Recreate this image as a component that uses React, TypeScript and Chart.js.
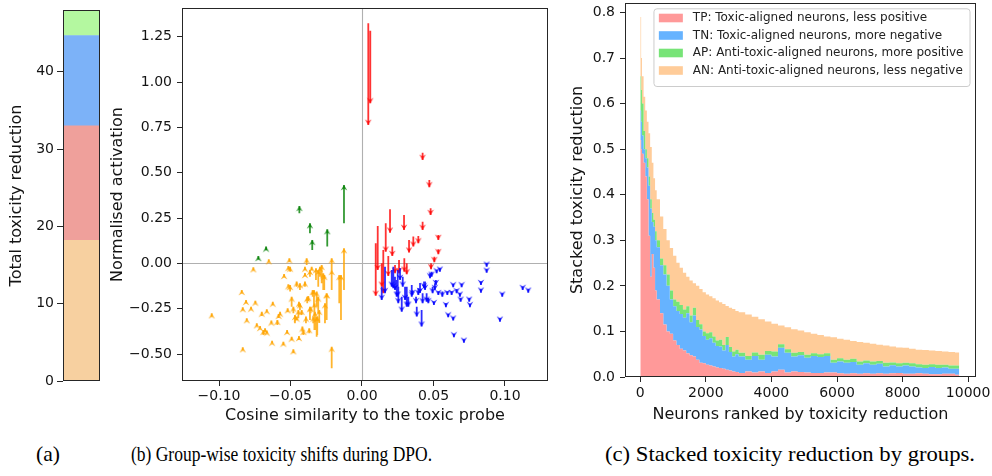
import React, { useEffect, useRef } from "react";
import { Chart, registerables } from "chart.js";

Chart.register(...registerables);

const SANS = "'DejaVu Sans', 'Liberation Sans', sans-serif";
const SERIF = "'Liberation Serif', 'Times New Roman', serif";
const INK = "#141414";
const SPINE = "#262626";

/* ---------- (a) total toxicity reduction by group ---------- */
const A_GROUPS = ["AN", "TP", "TN", "AP"];
const A_VALUES = [18.2, 14.8, 11.7, 3.3];
const A_COLORS = ["#f7d0a0", "#efa09b", "#7cb2f8", "#b4f8a0"];
const A_TICKS = [0, 10, 20, 30, 40];

/* ---------- (b) group-wise shifts: arrow x, start activation, end activation ---------- */
const TP_X = [0.0044, 0.0058, 0.0424, 0.0471, 0.048, 0.0424, 0.0534, 0.0534, 0.0506, 0.0483, 0.0294, 0.0196, 0.0166, 0.011, 0.0096, 0.0149, 0.0212, 0.0359, 0.0394, 0.0329, 0.0259, 0.0296, 0.0313, 0.0184, 0.0138, 0.0231];
const TP_FROM = [1.324, 1.283, 0.611, 0.46, 0.304, 0.23, 0.157, 0.078, 0.037, 0.001, 0.267, 0.299, 0.222, 0.207, 0.111, 0.074, 0.093, 0.148, 0.152, 0.13, 0.019, 0.029, 0.001, 0.041, 0.001, -0.008];
const TP_TO = [0.764, 0.883, 0.571, 0.42, 0.267, 0.185, 0.13, 0.051, 0.007, -0.032, 0.185, 0.17, 0.065, -0.036, -0.178, -0.164, 0.041, 0.093, 0.111, 0.06, -0.054, -0.045, -0.06, -0.069, -0.128, -0.054];

const TN_X = [0.0138, 0.0161, 0.0208, 0.0219, 0.0231, 0.0243, 0.025, 0.0254, 0.0266, 0.0278, 0.0285, 0.0301, 0.0313, 0.0324, 0.0348, 0.0352, 0.0378, 0.0383, 0.0394, 0.0406, 0.0417, 0.0424, 0.0434, 0.0441, 0.0452, 0.0464, 0.0476, 0.0487, 0.0494, 0.0503, 0.051, 0.0517, 0.0522, 0.0534, 0.0545, 0.0562, 0.0587, 0.0597, 0.0603, 0.0627, 0.0638, 0.0638, 0.0643, 0.0662, 0.0685, 0.069, 0.0697, 0.0713, 0.075, 0.0755, 0.0832, 0.0832, 0.0872, 0.0872, 0.0965, 0.0981, 0.1124, 0.1163];
const TN_FROM = [-0.128, -0.018, -0.036, -0.018, -0.073, -0.091, -0.036, -0.128, -0.025, -0.183, -0.073, -0.128, -0.128, -0.183, -0.119, -0.146, -0.183, -0.238, -0.137, -0.107, -0.256, -0.164, -0.1, -0.1, -0.164, -0.19, -0.054, -0.045, -0.128, -0.211, -0.109, -0.091, -0.036, -0.155, -0.026, -0.155, -0.219, -0.155, -0.278, -0.155, -0.113, -0.297, -0.389, -0.142, -0.164, -0.192, -0.113, -0.418, -0.192, -0.223, -0.1, -0.142, 0.001, -0.032, -0.302, -0.164, -0.128, -0.142];
const TN_TO = [-0.201, -0.164, -0.128, -0.137, -0.146, -0.183, -0.183, -0.219, -0.091, -0.266, -0.128, -0.201, -0.238, -0.238, -0.183, -0.174, -0.219, -0.293, -0.174, -0.163, -0.348, -0.219, -0.137, -0.146, -0.211, -0.219, -0.082, -0.073, -0.164, -0.229, -0.146, -0.119, -0.054, -0.174, -0.045, -0.183, -0.241, -0.174, -0.297, -0.174, -0.131, -0.315, -0.407, -0.164, -0.183, -0.211, -0.131, -0.437, -0.211, -0.241, -0.119, -0.161, -0.018, -0.051, -0.321, -0.183, -0.146, -0.161];

const AP_X = [-0.0725, -0.0671, -0.0438, -0.0364, -0.0348, -0.0243, -0.0126];
const AP_FROM = [0.023, 0.074, 0.277, 0.166, 0.074, 0.093, 0.222];
const AP_TO = [0.041, 0.093, 0.317, 0.222, 0.13, 0.189, 0.433];

const AN_X = [-0.1051, -0.0841, -0.0834, -0.0834, -0.0811, -0.0806, -0.0776, -0.076, -0.0746, -0.0736, -0.0652, -0.0713, -0.0701, -0.069, -0.0678, -0.0666, -0.0634, -0.0629, -0.0624, -0.0592, -0.0583, -0.0573, -0.055, -0.0545, -0.0524, -0.052, -0.0515, -0.0503, -0.0508, -0.0503, -0.0492, -0.0492, -0.048, -0.048, -0.0469, -0.0457, -0.0445, -0.0441, -0.0441, -0.0434, -0.0422, -0.0417, -0.041, -0.0399, -0.0399, -0.0392, -0.0387, -0.0383, -0.0376, -0.0369, -0.0364, -0.0359, -0.0352, -0.0345, -0.0341, -0.0336, -0.0329, -0.0322, -0.0317, -0.0313, -0.0306, -0.0299, -0.0294, -0.0282, -0.0271, -0.0259, -0.0247, -0.0212, -0.0212, -0.0212, -0.0159, -0.0147, -0.0126, -0.0666, -0.0399, -0.0306, -0.0264, -0.0247, -0.0317, -0.0333, -0.0364, -0.0434, -0.0457, -0.0515];
const AN_FROM = [-0.293, -0.161, -0.477, -0.256, -0.216, -0.315, -0.252, -0.036, -0.219, -0.345, 0.01, -0.357, -0.289, -0.394, -0.376, -0.266, -0.33, -0.44, -0.229, -0.339, -0.3, -0.284, -0.45, -0.073, -0.385, -0.266, -0.03, -0.045, 0.01, -0.155, -0.422, -0.238, -0.492, -0.275, -0.33, -0.128, -0.302, -0.422, -0.238, -0.146, -0.284, -0.376, -0.394, -0.128, -0.036, -0.33, -0.008, -0.219, -0.207, -0.385, -0.073, -0.275, -0.036, -0.183, -0.33, -0.238, -0.367, -0.091, -0.238, -0.394, -0.275, -0.328, -0.073, -0.109, -0.146, -0.33, -0.219, -0.146, -0.054, -0.578, -0.219, -0.311, -0.146, -0.385, -0.069, -0.128, -0.146, -0.311, -0.404, -0.367, -0.311, -0.256, -0.311, -0.128];
const AN_TO = [-0.275, -0.146, -0.462, -0.241, -0.201, -0.302, -0.238, -0.021, -0.205, -0.33, 0.023, -0.345, -0.266, -0.367, -0.357, -0.252, -0.315, -0.426, -0.211, -0.311, -0.278, -0.266, -0.431, -0.058, -0.367, -0.247, -0.014, -0.018, 0.029, -0.119, -0.404, -0.183, -0.473, -0.238, -0.284, -0.1, -0.256, -0.4, -0.211, -0.109, -0.256, -0.348, -0.367, -0.1, -0.018, -0.293, 0.029, -0.183, -0.179, -0.357, -0.036, -0.238, -0.018, -0.146, -0.293, -0.146, -0.266, -0.026, -0.155, -0.293, -0.183, -0.256, -0.018, -0.008, -0.054, -0.219, -0.164, -0.036, 0.029, -0.459, -0.063, -0.063, 0.084, -0.37, -0.052, -0.036, -0.063, -0.164, -0.293, -0.219, -0.238, -0.219, -0.293, -0.115];

const B_X_TICKS = [-0.1, -0.05, 0, 0.05, 0.1];
const B_Y_TICKS = [-0.5, -0.25, 0, 0.25, 0.5, 0.75, 1.0, 1.25];

/* ---------- (c) stacked toxicity reduction per ranked neuron ---------- */
const C_RANK = [0, 25, 50, 100, 150, 200, 250, 300, 350, 400, 450, 500, 600, 700, 800, 900, 1000, 1100, 1200, 1300, 1400, 1500, 1600, 1700, 1800, 1900, 2000, 2100, 2200, 2300, 2400, 2500, 2600, 2700, 2800, 2900, 3000, 3200, 3400, 3600, 3800, 4000, 4200, 4400, 4600, 4800, 5000, 5200, 5400, 5600, 5800, 6000, 6200, 6400, 6600, 6800, 7000, 7200, 7400, 7600, 7800, 8000, 8200, 8400, 8600, 8800, 9000, 9200, 9400, 9600, 9730];
const C_TP = [0.52, 0.5, 0.49, 0.47, 0.44, 0.39, 0.31, 0.22, 0.27, 0.24, 0.19, 0.17, 0.14, 0.115, 0.1, 0.095, 0.08, 0.07, 0.062, 0.058, 0.052, 0.048, 0.045, 0.038, 0.031, 0.03, 0.027, 0.025, 0.023, 0.021, 0.02, 0.018, 0.016, 0.014, 0.012, 0.011, 0.009, 0.012, 0.01, 0.012, 0.009, 0.012, 0.016, 0.01, 0.012, 0.011, 0.01, 0.009, 0.009, 0.01, 0.01, 0.008, 0.007, 0.008, 0.007, 0.008, 0.007, 0.008, 0.007, 0.008, 0.009, 0.007, 0.007, 0.008, 0.007, 0.006, 0.006, 0.007, 0.007, 0.005, 0.005];
const C_TN = [0.065, 0.06, 0.04, 0.03, 0.04, 0.07, 0.11, 0.15, 0.07, 0.09, 0.11, 0.115, 0.105, 0.11, 0.1, 0.075, 0.075, 0.075, 0.076, 0.072, 0.088, 0.072, 0.09, 0.072, 0.073, 0.06, 0.055, 0.06, 0.052, 0.047, 0.047, 0.04, 0.054, 0.041, 0.033, 0.039, 0.036, 0.026, 0.036, 0.026, 0.04, 0.033, 0.048, 0.043, 0.033, 0.037, 0.032, 0.037, 0.035, 0.036, 0.021, 0.026, 0.024, 0.025, 0.02, 0.022, 0.02, 0.021, 0.016, 0.018, 0.014, 0.018, 0.016, 0.013, 0.013, 0.016, 0.014, 0.014, 0.011, 0.013, 0.013];
const C_AP = [0.075, 0.07, 0.07, 0.04, 0.02, 0.02, 0.02, 0.02, 0.02, 0.015, 0.02, 0.015, 0.015, 0.02, 0.025, 0.02, 0.015, 0.02, 0.02, 0.018, 0.015, 0.015, 0.017, 0.015, 0.012, 0.01, 0.014, 0.013, 0.014, 0.012, 0.015, 0.012, 0.018, 0.011, 0.011, 0.01, 0.008, 0.008, 0.008, 0.011, 0.008, 0.011, 0.008, 0.008, 0.008, 0.007, 0.007, 0.006, 0.006, 0.006, 0.007, 0.007, 0.007, 0.007, 0.007, 0.006, 0.007, 0.006, 0.008, 0.006, 0.007, 0.006, 0.007, 0.007, 0.007, 0.006, 0.007, 0.006, 0.007, 0.007, 0.007];
const C_AN = [0.13, 0.07, 0.06, 0.075, 0.085, 0.08, 0.095, 0.115, 0.11, 0.091, 0.09, 0.09, 0.092, 0.08, 0.075, 0.093, 0.096, 0.086, 0.082, 0.081, 0.065, 0.077, 0.054, 0.075, 0.077, 0.086, 0.085, 0.079, 0.084, 0.088, 0.082, 0.09, 0.068, 0.086, 0.093, 0.085, 0.089, 0.091, 0.078, 0.078, 0.065, 0.061, 0.041, 0.048, 0.052, 0.047, 0.049, 0.043, 0.042, 0.037, 0.049, 0.043, 0.044, 0.039, 0.043, 0.039, 0.039, 0.036, 0.038, 0.035, 0.035, 0.033, 0.032, 0.032, 0.032, 0.03, 0.03, 0.029, 0.03, 0.029, 0.029];
const C_LABELS = [
  "TP: Toxic-aligned neurons, less positive",
  "TN: Toxic-aligned neurons, more negative",
  "AP: Anti-toxic-aligned neurons, more positive",
  "AN: Anti-toxic-aligned neurons, less negative",
];
const C_COLORS = ["#ff9999", "#66b3ff", "#77e477", "#ffcc99"];
const C_X_TICKS = [0, 2000, 4000, 6000, 8000, 10000];
const C_Y_TICKS = [0, 0.1, 0.2, 0.3, 0.4, 0.5, 0.6, 0.7, 0.8];

/* ---------- captions ---------- */
const CAPTIONS = [
  "(a)",
  "(b) Group-wise toxicity shifts during DPO.",
  "(c) Stacked toxicity reduction by groups.",
];

/* ---------- helpers ---------- */
const fmt = (v: number, d: number) =>
  (Math.abs(v) < 1e-9 ? 0 : v).toFixed(d).replace("-", "\u2212");
const tickFont = { family: SANS, size: 14 };
const titleFont = { family: SANS, size: 16 };
const fixY = (w: number) => (s: any) => {
  s.width = w;
  s.paddingTop = 0;
  s.paddingBottom = 0;
};
const fixX = (h: number) => (s: any) => {
  s.height = h;
  s.paddingLeft = 0;
  s.paddingRight = 0;
};
const setTicks = (vals: number[]) => (s: any) => {
  s.ticks = vals.map((value) => ({ value }));
};
const tickGrid = {
  display: true,
  drawOnChartArea: false,
  drawTicks: true,
  tickLength: 5,
  color: SPINE,
  lineWidth: 1,
};

const frame = {
  id: "frame",
  afterDatasetsDraw(chart: any) {
    const { ctx, chartArea: a } = chart;
    ctx.save();
    ctx.strokeStyle = SPINE;
    ctx.lineWidth = 1;
    const l = Math.round(a.left) + 0.5;
    const t = Math.round(a.top) + 0.5;
    const r = Math.round(a.right) - 0.5;
    const b = Math.round(a.bottom) - 0.5;
    ctx.strokeRect(l, t, r - l, b - t);
    ctx.restore();
  },
};

const zeroLines = {
  id: "zeroLines",
  beforeDatasetsDraw(chart: any) {
    const { ctx, chartArea: a, scales } = chart;
    const px = Math.round(scales.x.getPixelForValue(0)) + 0.5;
    const py = Math.round(scales.y.getPixelForValue(0)) + 0.5;
    ctx.save();
    ctx.strokeStyle = "#b0b0b0";
    ctx.lineWidth = 1.1;
    ctx.beginPath();
    ctx.moveTo(px, a.top);
    ctx.lineTo(px, a.bottom);
    ctx.moveTo(a.left, py);
    ctx.lineTo(a.right, py);
    ctx.stroke();
    ctx.restore();
  },
};

const insideLegend = {
  id: "insideLegend",
  afterDraw(chart: any) {
    const { ctx, chartArea: a } = chart;
    ctx.save();
    ctx.font = `12px ${SANS}`;
    const maxW = Math.max(...C_LABELS.map((t) => ctx.measureText(t).width));
    const padX = 5.4;
    const handle = 24;
    const gap = 10;
    const rowH = 17.5;
    const boxW = padX + handle + gap + maxW + 6;
    const boxH = 77.7;
    const right = a.right - 6.5;
    const top = a.top + 5.3;
    const left = right - boxW;
    ctx.beginPath();
    ctx.roundRect(left + 0.5, top + 0.5, boxW, boxH, 3);
    ctx.fillStyle = "rgba(255,255,255,0.8)";
    ctx.fill();
    ctx.strokeStyle = "#cccccc";
    ctx.lineWidth = 1;
    ctx.stroke();
    ctx.textBaseline = "middle";
    C_LABELS.forEach((label, i) => {
      const yc = top + 9.7 + i * rowH;
      ctx.fillStyle = C_COLORS[i];
      ctx.fillRect(left + padX, yc - 4.3, handle, 8.6);
      ctx.fillStyle = "#222";
      ctx.fillText(label, left + padX + handle + gap, yc);
    });
    ctx.restore();
  },
};

function headImage(color: string) {
  const c = document.createElement("canvas");
  c.width = 8;
  c.height = 12;
  const g = c.getContext("2d")!;
  g.fillStyle = color;
  g.beginPath();
  g.moveTo(4, 6);
  g.lineTo(7.3, 11.6);
  g.lineTo(4, 9.6);
  g.lineTo(0.7, 11.6);
  g.closePath();
  g.fill();
  return c;
}

function makeA(canvas: HTMLCanvasElement) {
  return new Chart(canvas, {
    type: "bar",
    data: {
      labels: [""],
      datasets: A_GROUPS.map((g, i) => ({
        label: g,
        data: [A_VALUES[i]],
        backgroundColor: A_COLORS[i],
        borderWidth: 0,
        barPercentage: 1,
        categoryPercentage: 1,
      })),
    },
    options: {
      responsive: false,
      animation: false,
      events: [],
      layout: { padding: { top: 10, right: 5, bottom: 49, left: 0 } },
      plugins: { legend: { display: false }, tooltip: { enabled: false } },
      scales: {
        x: { stacked: true, display: false },
        y: {
          stacked: true,
          min: 0,
          max: A_VALUES.reduce((s, v) => s + v, 0),
          afterBuildTicks: setTicks(A_TICKS),
          afterFit: fixY(63),
          ticks: { callback: (v: any) => String(v), font: tickFont, color: INK, padding: 3 },
          grid: { ...tickGrid, tickLength: 6 },
          border: { display: false },
          title: {
            display: true,
            text: "Total toxicity reduction",
            font: titleFont,
            color: INK,
            padding: { top: 7.4, bottom: 0 },
          },
        },
      },
    } as any,
    plugins: [frame],
  });
}

function makeB(canvas: HTMLCanvasElement) {
  const groups = [
    { xs: TN_X, from: TN_FROM, to: TN_TO, color: "rgba(0,0,255,0.82)", rot: 180 },
    { xs: TP_X, from: TP_FROM, to: TP_TO, color: "rgba(255,0,0,0.8)", rot: 180 },
    { xs: AP_X, from: AP_FROM, to: AP_TO, color: "rgba(0,128,0,0.8)", rot: 0 },
    { xs: AN_X, from: AN_FROM, to: AN_TO, color: "rgba(255,165,0,0.82)", rot: 0 },
  ];
  const datasets: any[] = [];
  groups.forEach((g) => {
    datasets.push({
      data: g.xs.map((x, i) => ({ x, y: g.to[i] })),
      pointStyle: headImage(g.color),
      pointRadius: 4,
      pointRotation: g.rot,
      showLine: false,
    });
    const shaft: any[] = [];
    g.xs.forEach((x, i) => {
      shaft.push({ x, y: g.from[i] }, { x, y: g.to[i] }, { x, y: null });
    });
    datasets.push({
      data: shaft,
      showLine: true,
      spanGaps: false,
      borderColor: g.color,
      borderWidth: 1.8,
      pointRadius: 0,
    });
  });
  return new Chart(canvas, {
    type: "scatter",
    data: { datasets },
    options: {
      responsive: false,
      animation: false,
      events: [],
      layout: { padding: { top: 8, right: 12, bottom: 0, left: 0 } },
      plugins: { legend: { display: false }, tooltip: { enabled: false } },
      scales: {
        x: {
          type: "linear",
          min: -0.1259,
          max: 0.1301,
          afterBuildTicks: setTicks(B_X_TICKS),
          afterFit: fixX(49),
          ticks: { callback: (v: any) => fmt(v, 2), font: tickFont, color: INK, padding: 2, maxRotation: 0, autoSkip: false },
          grid: tickGrid,
          border: { display: false },
          title: {
            display: true,
            text: "Cosine similarity to the toxic probe",
            font: titleFont,
            color: INK,
            padding: { top: 0, bottom: 4.6 },
          },
        },
        y: {
          type: "linear",
          min: -0.648,
          max: 1.4085,
          afterBuildTicks: setTicks(B_Y_TICKS),
          afterFit: fixY(77),
          ticks: { callback: (v: any) => fmt(v, 2), font: tickFont, color: INK, padding: 5 },
          grid: tickGrid,
          border: { display: false },
          title: {
            display: true,
            text: "Normalised activation",
            font: titleFont,
            color: INK,
            padding: { top: 2.9, bottom: 0 },
          },
        },
      },
    } as any,
    plugins: [zeroLines, frame],
  });
}

function makeC(canvas: HTMLCanvasElement) {
  const series = [C_TP, C_TN, C_AP, C_AN];
  return new Chart(canvas, {
    type: "line",
    data: {
      datasets: series.map((vals, k) => ({
        label: C_LABELS[k],
        data: C_RANK.map((x, i) => ({ x, y: vals[i] })),
        stepped: true,
        fill: k === 0 ? "origin" : "-1",
        backgroundColor: C_COLORS[k],
        borderColor: "rgba(0,0,0,0)",
        borderWidth: 0,
        pointRadius: 0,
      })),
    },
    options: {
      responsive: false,
      animation: false,
      events: [],
      layout: { padding: { top: 3, right: 16, bottom: 0, left: 0 } },
      plugins: { legend: { display: false }, tooltip: { enabled: false } },
      scales: {
        x: {
          type: "linear",
          min: -467,
          max: 10240,
          afterBuildTicks: setTicks(C_X_TICKS),
          afterFit: fixX(53),
          ticks: { callback: (v: any) => String(v), font: tickFont, color: INK, padding: 3, maxRotation: 0, autoSkip: false },
          grid: tickGrid,
          border: { display: false },
          title: {
            display: true,
            text: "Neurons ranked by toxicity reduction",
            font: titleFont,
            color: INK,
            padding: { top: 0, bottom: 5.6 },
          },
        },
        y: {
          type: "linear",
          stacked: true,
          min: 0,
          max: 0.8208,
          afterBuildTicks: setTicks(C_Y_TICKS),
          afterFit: fixY(65),
          ticks: { callback: (v: any) => fmt(v, 1), font: tickFont, color: INK, padding: 5 },
          grid: tickGrid,
          border: { display: false },
          title: {
            display: true,
            text: "Stacked toxicity reduction",
            font: titleFont,
            color: INK,
            padding: { top: 7.9, bottom: 0 },
          },
        },
      },
    } as any,
    plugins: [frame, insideLegend],
  });
}

export default function App() {
  const aRef = useRef<HTMLCanvasElement>(null);
  const bRef = useRef<HTMLCanvasElement>(null);
  const cRef = useRef<HTMLCanvasElement>(null);
  const capA = useRef<HTMLSpanElement>(null);
  const capB = useRef<HTMLSpanElement>(null);
  const capC = useRef<HTMLSpanElement>(null);

  useEffect(() => {
    const charts = [makeA(aRef.current!), makeB(bRef.current!), makeC(cRef.current!)];
    const targets: [any, number][] = [
      [capA, 24],
      [capB, 301],
      [capC, 370],
    ];
    targets.forEach(([ref, w]) => {
      const el = ref.current as HTMLSpanElement;
      if (!el) return;
      el.style.transform = "none";
      const natural = el.getBoundingClientRect().width;
      if (natural > 0) el.style.transform = `scaleX(${w / natural})`;
    });
    return () => charts.forEach((c) => c.destroy());
  }, []);

  const capStyle = (left: number): React.CSSProperties => ({
    position: "absolute",
    left,
    top: 443,
    fontFamily: SERIF,
    fontSize: 22,
    lineHeight: "22px",
    whiteSpace: "nowrap",
    transformOrigin: "0 0",
    color: "#000",
  });

  return (
    <div style={{ position: "absolute", left: 0, top: 0, width: 992, height: 476, background: "#fff", overflow: "hidden" }}>
      <canvas ref={aRef} width={105} height={430} style={{ position: "absolute", left: 0, top: 0, width: 105, height: 430 }} />
      <canvas ref={bRef} width={455} height={430} style={{ position: "absolute", left: 105, top: 0, width: 455, height: 430 }} />
      <canvas ref={cRef} width={432} height={430} style={{ position: "absolute", left: 560, top: 0, width: 432, height: 430 }} />
      <span ref={capA} style={capStyle(36)}>{CAPTIONS[0]}</span>
      <span ref={capB} style={capStyle(131)}>{CAPTIONS[1]}</span>
      <span ref={capC} style={capStyle(605)}>{CAPTIONS[2]}</span>
    </div>
  );
}
